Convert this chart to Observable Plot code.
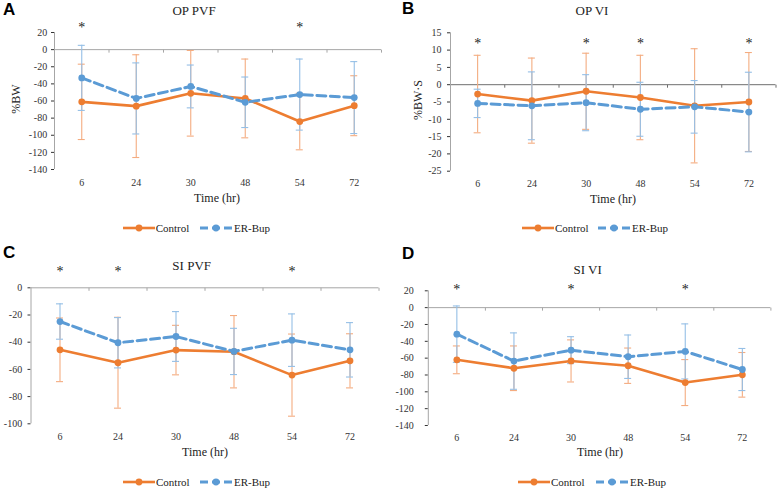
<!DOCTYPE html>
<html>
<head>
<meta charset="utf-8">
<script src="https://cdn.jsdelivr.net/npm/d3@7"></script>
<script src="https://cdn.jsdelivr.net/npm/@observablehq/plot@0.6"></script>
<style>
  body { margin: 0; background: #fff; }
  #wrap { position: relative; width: 778px; height: 489px; overflow: hidden; background: #fff;
          font-family: 'Liberation Serif', serif; color: #222; }
  .panel { position: absolute; height: 244px; }
  .panel svg.chart { position: absolute; left: 0; top: 0; }
  .abs { position: absolute; white-space: nowrap; line-height: 1; font-family: 'Liberation Serif', serif; }
  .letter { font-family: 'Liberation Sans', sans-serif; font-weight: bold; font-size: 17px; color: #000; }
  .title { font-size: 13px; transform: translate(-50%, -50%); }
  .xlab { font-size: 12px; transform: translate(-50%, -50%); }
  .ylab { font-size: 12px; transform: translate(-50%, -50%) rotate(-90deg); }
  .legtext { font-size: 11px; transform: translateY(-50%); }
  .swatch { transform: translateY(-50%); }
  svg.chart text { font-family: 'Liberation Serif', serif; }
</style>
</head>
<body>
<div id="wrap"></div>
<script>
// ---------- data ----------
const times = ["6", "24", "30", "48", "54", "72"];
const seriesNames = ["Control", "ER-Bup"];
const xTitle = "Time (hr)";

// A: OP PVF
const opPvfControl    = [-61, -66, -51, -57, -84, -65.5];
const opPvfControlErr = [44, 60, 50, 46, 33, 35];
const opPvfErBup      = [-33, -57, -43, -61.5, -52.5, -56];
const opPvfErBupErr   = [38, 41.5, 25, 29.5, 41.5, 42];
const opPvfSig        = ["6", "54"];
const opPvfTicks      = [20, 0, -20, -40, -60, -80, -100, -120, -140];

// B: OP VI
const opViControl     = [-2.7, -4.6, -1.9, -3.7, -6.1, -5.0];
const opViControlErr  = [11.2, 12.3, 11.0, 12.2, 16.5, 14.3];
const opViErBup       = [-5.4, -6.1, -5.2, -7.1, -6.4, -7.9];
const opViErBupErr    = [4.1, 9.8, 8.1, 7.8, 7.6, 11.5];
const opViSig         = ["6", "30", "48", "72"];
const opViTicks       = [15, 10, 5, 0, -5, -10, -15, -20, -25];

// C: SI PVF
const siPvfControl    = [-45.6, -55.1, -45.8, -47, -64.2, -53.7];
const siPvfControlErr = [23.4, 33.4, 18.2, 26.6, 30.2, 19.9];
const siPvfErBup      = [-24.8, -40.4, -35.8, -46.8, -38.5, -45.6];
const siPvfErBupErr   = [13.0, 18.5, 18.3, 17.0, 19.3, 20.0];
const siPvfSig        = ["6", "24", "54"];
const siPvfTicks      = [0, -20, -40, -60, -80, -100];

// D: SI VI
const siViControl     = [-62, -72, -63.3, -69, -89, -79.8];
const siViControlErr  = [16.5, 26.5, 25, 21, 27.3, 26.5];
const siViErBup       = [-31.5, -63.5, -50.5, -58.3, -52, -73.5];
const siViErBupErr    = [33.5, 33.5, 16, 25.8, 32.7, 25];
const siViSig         = ["6", "30", "54"];
const siViTicks       = [20, 0, -20, -40, -60, -80, -100, -120, -140];

// ---------- styles ----------
const ctrlColor = "#ED7D31", erColor = "#5B9BD5";
const ctrlErrColor = "#F4AC80", erErrColor = "#95BFE6";

const panels = [
  { letter: "A", title: "OP PVF", ylabel: "%BW", left: 0, top: 0, w: 389,
    ctrl: opPvfControl, ctrlErr: opPvfControlErr, er: opPvfErBup, erErr: opPvfErBupErr,
    sig: opPvfSig, ticks: opPvfTicks,
    m: { top: 32, bottom: 75, left: 54, right: 8 }, zero: "#a6a6a6", starDy: -10,
    tpx: 9.5, tpy: 4.3,
    letterPos: [3, 1], titlePos: [194, 9.5], ylabPos: [16, 99], xlabPos: [217, 198],
    leg: [122.7, 200, 228] },
  { letter: "B", title: "OP VI", ylabel: "%BW·S", left: 390, top: 0, w: 388,
    ctrl: opViControl, ctrlErr: opViControlErr, er: opViErBup, erErr: opViErBupErr,
    sig: opViSig, ticks: opViTicks,
    m: { top: 32.3, bottom: 73.3, left: 60, right: 2.5 }, zero: "#6e6e6e", starDy: 5.5,
    tpx: 8.8, tpy: 6,
    letterPos: [12, 0], titlePos: [202, 10], ylabPos: [28, 100], xlabPos: [223, 199],
    leg: [132, 208, 228.3] },
  { letter: "C", title: "SI PVF", ylabel: null, left: 0, top: 245, w: 389,
    ctrl: siPvfControl, ctrlErr: siPvfControlErr, er: siPvfErBup, erErr: siPvfErBupErr,
    sig: siPvfSig, ticks: siPvfTicks,
    m: { top: 42.3, bottom: 65.7, left: 30.5, right: 10.5 }, zero: "#a6a6a6", starDy: -21.5,
    tpx: 9.5, tpy: 5.8,
    letterPos: [3, -1], titlePos: [191.7, 19.5], ylabPos: null, xlabPos: [205, 207],
    leg: [123, 200, 237] },
  { letter: "D", title: "SI VI", ylabel: null, left: 390, top: 245, w: 388,
    ctrl: siViControl, ctrlErr: siViControlErr, er: siViErBup, erErr: siViErBupErr,
    sig: siViSig, ticks: siViTicks,
    m: { top: 45.3, bottom: 64, left: 37.8, right: 7.6 }, zero: "#a6a6a6", starDy: -6.5,
    tpx: 8.2, tpy: 11.5,
    letterPos: [12, 0], titlePos: [197.7, 24], ylabPos: null, xlabPos: [210, 207],
    leg: [128, 206, 237.3] }
];

const tickDown = { draw(ctx) { ctx.moveTo(0, 0); ctx.lineTo(0, 3); } };

function buildChart(p) {
  const h = 244;
  const step = (p.w - p.m.left - p.m.right) / times.length;
  const capInset = (step - 7) / 2;
  const rowsC = times.map((t, i) => ({ t, m: p.ctrl[i], e: p.ctrlErr[i] }));
  const rowsE = times.map((t, i) => ({ t, m: p.er[i], e: p.erErr[i] }));
  const errMarks = (rows, color) => [
    Plot.ruleX(rows, { x: "t", y1: d => d.m - d.e, y2: d => d.m + d.e, stroke: color, strokeWidth: 1.1 }),
    Plot.tickY(rows, { x: "t", y: d => d.m + d.e, stroke: color, strokeWidth: 1.1, insetLeft: capInset, insetRight: capInset }),
    Plot.tickY(rows, { x: "t", y: d => d.m - d.e, stroke: color, strokeWidth: 1.1, insetLeft: capInset, insetRight: capInset })
  ];
  const dom = d3.extent(p.ticks);
  const svg = Plot.plot({
    width: p.w, height: h,
    marginTop: p.m.top, marginBottom: p.m.bottom, marginLeft: p.m.left, marginRight: p.m.right,
    style: { fontFamily: "'Liberation Serif', serif", fontSize: "10px", color: "#333", background: "transparent", overflow: "visible" },
    x: { type: "band", domain: times, padding: 0, round: false, tickSize: 0, tickPadding: p.tpx, label: null },
    y: { domain: dom, ticks: p.ticks, tickSize: 3, tickPadding: p.tpy, tickFormat: d => String(d), label: null },
    marks: [
      Plot.ruleY([0], { stroke: p.zero, strokeWidth: 1 }),
      Plot.dot(times, { x: d => d, y: 0, symbol: tickDown, stroke: p.zero, fill: "none", strokeWidth: 1, dx: step / 2 }),
      Plot.ruleX([times[0]], { x: d => d, dx: -step / 2, stroke: "#a6a6a6", strokeWidth: 1 }),
      ...errMarks(rowsC, ctrlErrColor),
      ...errMarks(rowsE, erErrColor),
      Plot.line(rowsC, { x: "t", y: "m", stroke: ctrlColor, strokeWidth: 2.6 }),
      Plot.dot(rowsC, { x: "t", y: "m", r: 3.4, fill: ctrlColor }),
      Plot.line(rowsE, { x: "t", y: "m", stroke: erColor, strokeWidth: 3, strokeDasharray: "9,4.5" }),
      Plot.dot(rowsE, { x: "t", y: "m", r: 3.4, fill: erColor }),
      Plot.text(p.sig, { x: d => d, frameAnchor: "top", dy: p.starDy, text: () => "*", fontSize: 14, fill: "#222" })
    ]
  });
  svg.classList.add("chart");
  return svg;
}

function swatch(color, dashed) {
  const ns = "http://www.w3.org/2000/svg";
  const s = document.createElementNS(ns, "svg");
  s.setAttribute("width", 32); s.setAttribute("height", 10);
  s.setAttribute("class", "swatch");
  const l = document.createElementNS(ns, "line");
  l.setAttribute("x1", 0); l.setAttribute("x2", 32); l.setAttribute("y1", 5); l.setAttribute("y2", 5);
  l.setAttribute("stroke", color); l.setAttribute("stroke-width", dashed ? 3 : 2.6);
  if (dashed) l.setAttribute("stroke-dasharray", "8,4");
  const c = document.createElementNS(ns, "circle");
  c.setAttribute("cx", 16); c.setAttribute("cy", 5); c.setAttribute("r", 3.4); c.setAttribute("fill", color);
  s.append(l, c);
  return s;
}

function abs(cls, text, x, y) {
  const d = document.createElement("div");
  d.className = "abs " + cls;
  d.textContent = text;
  d.style.left = x + "px"; d.style.top = y + "px";
  return d;
}

const wrap = document.getElementById("wrap");
for (const p of panels) {
  const div = document.createElement("div");
  div.className = "panel";
  div.style.left = p.left + "px"; div.style.top = p.top + "px"; div.style.width = p.w + "px";
  div.appendChild(buildChart(p));
  div.appendChild(abs("letter", p.letter, p.letterPos[0], p.letterPos[1]));
  div.appendChild(abs("title", p.title, p.titlePos[0], p.titlePos[1]));
  if (p.ylabel) div.appendChild(abs("ylab", p.ylabel, p.ylabPos[0], p.ylabPos[1]));
  div.appendChild(abs("xlab", xTitle, p.xlabPos[0], p.xlabPos[1]));
  const [x1, x2, ly] = p.leg;
  const s1 = swatch(ctrlColor, false); s1.style.position = "absolute"; s1.style.left = x1 + "px"; s1.style.top = ly + "px";
  const s2 = swatch(erColor, true); s2.style.position = "absolute"; s2.style.left = x2 + "px"; s2.style.top = ly + "px";
  div.appendChild(s1);
  div.appendChild(abs("legtext", seriesNames[0], x1 + 33, ly));
  div.appendChild(s2);
  div.appendChild(abs("legtext", seriesNames[1], x2 + 34, ly));
  wrap.appendChild(div);
}
</script>
</body>
</html>
